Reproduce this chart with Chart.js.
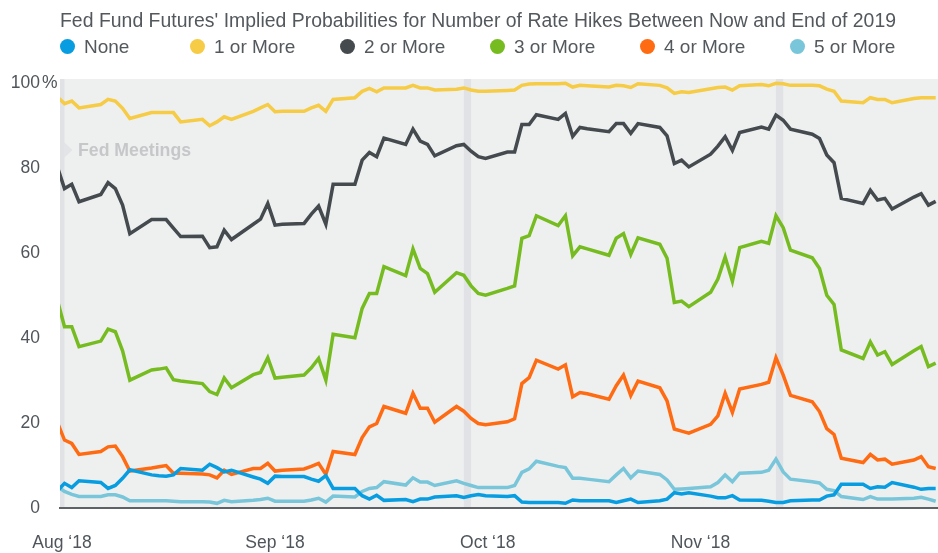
<!DOCTYPE html>
<html><head><meta charset="utf-8">
<script src="https://cdn.jsdelivr.net/npm/chart.js@4.4.1/dist/chart.umd.min.js"></script>
<style>
html,body{margin:0;padding:0;background:#fff;}
#wrap{position:relative;width:938px;height:553px;overflow:hidden;}
#c{position:absolute;left:0;top:0;}
.txt{font-family:"Liberation Sans",Arial,sans-serif;color:#53585d;white-space:nowrap;position:absolute;}
#ttl{left:60px;top:8px;font-size:19.4px;line-height:24px;}
.lg{top:35px;font-size:19px;line-height:24px;}
.dot{position:absolute;width:15px;height:15px;border-radius:50%;top:39px;}
#fm{left:78px;top:139px;font-size:17.7px;line-height:22px;font-weight:bold;color:#c5c7c9;}
</style></head>
<body><div id="wrap"><canvas id="c" width="938" height="553"></canvas>
<div id="ttl" class="txt">Fed Fund Futures' Implied Probabilities for Number of Rate Hikes Between Now and End of 2019</div>
<div id="fm" class="txt">Fed Meetings</div>
</div>
<script>
const dates = ['2018-07-31','2018-08-01','2018-08-02','2018-08-03',
'2018-08-06','2018-08-07','2018-08-08','2018-08-09','2018-08-10',
'2018-08-13','2018-08-14','2018-08-15','2018-08-16','2018-08-17',
'2018-08-20','2018-08-21','2018-08-22','2018-08-23','2018-08-24',
'2018-08-27','2018-08-28','2018-08-29','2018-08-30','2018-08-31',
'2018-09-03','2018-09-04','2018-09-05','2018-09-06','2018-09-07',
'2018-09-10','2018-09-11','2018-09-12','2018-09-13','2018-09-14',
'2018-09-17','2018-09-18','2018-09-19','2018-09-20','2018-09-21',
'2018-09-24','2018-09-25','2018-09-26','2018-09-27','2018-09-28',
'2018-10-01','2018-10-02','2018-10-03','2018-10-04','2018-10-05',
'2018-10-08','2018-10-09','2018-10-10','2018-10-11','2018-10-12',
'2018-10-15','2018-10-16','2018-10-17','2018-10-18','2018-10-19',
'2018-10-22','2018-10-23','2018-10-24','2018-10-25','2018-10-26',
'2018-10-29','2018-10-30','2018-10-31','2018-11-01','2018-11-02',
'2018-11-05','2018-11-06','2018-11-07','2018-11-08','2018-11-09',
'2018-11-12','2018-11-13','2018-11-14','2018-11-15','2018-11-16',
'2018-11-19','2018-11-20','2018-11-21','2018-11-22','2018-11-23',
'2018-11-26','2018-11-27','2018-11-28','2018-11-29'];

const seriesNames = ['None','1 or More','2 or More','3 or More','4 or More','5 or More'];

const none = [4.0, 5.8,4.8,6.4, 6.0,4.6,5.3,7.0,9.0, 7.8,7.6,7.5,7.8,9.3, 8.9,10.3,9.5,8.5,8.9,
7.3,6.8,5.8,7.5,7.4, 7.4,6.8,6.3,7.6,4.6, 4.6,2.9,2.1,3.0,1.8, 2.0,1.5,2.1,2.1,2.6,
2.9,2.5,2.9,3.2,2.9, 2.7,2.9,1.4,1.3,1.3, 1.3,1.1,1.9,1.7,1.7, 1.7,1.3,1.7,2.1,1.3,
1.7,2.1,3.6,3.3,3.6, 2.8,2.4,2.4,2.9,1.9, 1.8,1.6,1.3,1.3,1.7, 1.9,1.9,2.8,3.1,5.6,
5.6,4.6,5.0,4.9,6.0, 4.9,4.4,4.6,4.6];

const oneOrMore = [96.8, 95.2,95.8,94.2, 95.0,96.2,95.8,94.1,91.7, 93.1,93.1,93.1,93.1,90.9,
91.5,90.0,90.9,92.1,91.5, 93.4,94.2,95.0,93.3,93.4, 93.4,94.2,94.8,93.4,96.2,
96.6,98.1,98.8,98.0,98.9, 98.9,99.5,98.9,98.9,98.4, 98.6,98.9,98.4,98.1,98.1,
98.3,98.4,99.5,99.8,99.9, 99.9,100,99.1,99.5,99.4, 99.1,99.5,99.4,99.0,99.9,
99.5,98.9,97.6,98.0,97.8, 98.7,99.0,99.1,98.4,99.4, 99.7,99.4,100,99.9,99.5,
99.5,99.4,98.6,98.1,95.8, 95.4,96.6,96.2,96.2,95.4, 96.4,96.6,96.6,96.6];

const twoOrMore = [80.4, 75.2,76.2,72.1, 73.8,76.6,75.2,71.3,64.6, 67.9,67.9,67.9,65.9,63.9,
64.0,61.3,61.5,65.4,63.2, 66.8,68.0,71.7,66.6,66.8, 67.0,69.2,71.1,66.8,76.2,
76.2,81.9,83.7,82.7,87.1, 85.6,89.2,86.4,85.6,82.9, 85.3,85.6,84.0,82.7,82.3,
83.8,83.8,90.3,90.3,92.6, 91.5,92.9,87.5,89.6,89.3, 88.6,90.5,90.5,88.2,90.5,
89.6,87.6,81.1,81.9,80.3, 83.3,85.2,87.4,84.2,88.4, 89.7,89.2,92.5,91.3,89.2,
88.0,87.0,83.1,81.3,72.9, 71.7,74.8,72.5,72.9,70.4, 73.2,74.0,71.3,72.2];

const threeOrMore = [49.0, 42.7,42.7,38.0, 39.3,42.1,41.5,37.0,30.1, 32.5,32.7,33.0,30.2,29.9,
29.3,27.4,26.7,30.6,28.3, 31.4,31.9,35.4,30.6,30.8, 31.3,33.0,35.2,30.1,40.9,
40.1,47.0,50.5,50.5,56.8, 54.7,61.0,56.4,55.2,50.8, 55.4,54.8,52.3,50.5,50.1,
51.7,52.3,63.5,64.1,68.8, 66.5,68.8,59.4,61.5,61.0, 59.5,63.5,64.6,59.7,63.6,
62.1,58.8,48.4,48.7,47.4, 50.8,53.9,59.1,53.4,61.3, 62.8,62.3,68.8,66.0,60.7,
58.9,56.4,50.1,47.9,37.2, 35.2,39.1,36.0,36.8,33.8, 37.0,38.0,33.3,34.1];

const fourOrMore = [20.2, 16.0,15.2,12.6, 13.3,14.4,14.6,12.1,8.7, 9.4,9.7,10.0,8.2,8.2,
8.0,7.8,7.1,8.9,7.9, 9.3,9.3,10.5,8.7,8.9, 9.2,9.8,10.5,7.9,13.3,
12.6,16.6,19.1,19.9,23.9, 22.3,27.0,23.5,23.5,20.2, 23.9,22.8,21.1,19.9,19.6,
20.3,21.0,29.3,30.7,34.8, 32.7,33.7,26.2,27.2,26.9, 25.6,28.8,31.3,26.5,29.9,
28.3,25.2,18.6,18.1,17.6, 19.7,21.7,27.0,22.5,28.0, 29.1,29.6,35.4,31.3,26.5,
25.0,22.7,18.7,17.3,11.7, 10.7,12.6,11.3,11.5,10.3, 11.3,12.1,9.7,9.3];

const fiveOrMore = [5.1, 3.9,3.2,2.7, 2.7,3.1,3.1,2.6,1.7, 1.7,1.7,1.7,1.6,1.5,
1.5,1.4,1.1,1.8,1.5, 1.8,2.0,2.3,1.6,1.6, 1.6,1.9,2.3,1.4,2.8,
2.6,3.9,4.6,4.8,6.2, 5.4,7.1,6.1,6.1,5.3, 6.4,5.8,5.3,4.8,4.8,
4.8,5.3,8.4,9.2,11.0, 9.8,9.5,7.0,7.0,6.8, 6.2,7.8,9.3,7.1,8.7,
7.9,6.6,4.4,4.5,4.6, 5.0,6.0,7.8,6.2,8.2, 8.4,8.9,11.5,8.5,6.8,
6.2,5.9,4.4,4.1,2.7, 2.0,2.7,2.1,2.1,2.1, 2.3,2.5,2.1,1.6];

const fedMeetings = ['2018-08-01','2018-09-26','2018-11-08'];
const yTicks = [0,20,40,60,80,100];
const xTickLabels = ['Aug \u201818','Sep \u201818','Oct \u201818','Nov \u201818'];
const xTickDays = [-0.35, 29.0, 58.3, 87.6];

const colors = ['#079de0','#f6cb45','#454a4f','#76bc21','#ff6b12','#79c6da'];
const seriesValues = [none, oneOrMore, twoOrMore, threeOrMore, fourOrMore, fiveOrMore];

const base = Date.UTC(2018,7,1);
const dayOf = s => { const [y,m,d] = s.split('-').map(Number); return (Date.UTC(y,m-1,d)-base)/86400000; };
const xs = dates.map(dayOf);
const fedDays = fedMeetings.map(dayOf);

const FONT = '"Liberation Sans",Arial,sans-serif';
const TICK_COLOR = '#4f555a';

// legend (HTML, real text)
const wrap = document.getElementById('wrap');
const lgLeft = [60,190,340,490,640,790];
seriesNames.forEach((n,i)=>{
  const d = document.createElement('div'); d.className='dot';
  d.style.left = lgLeft[i]+'px'; d.style.background = colors[i]; wrap.appendChild(d);
  const t = document.createElement('div'); t.className='txt lg'; t.textContent = n;
  t.style.left = (lgLeft[i]+24)+'px'; wrap.appendChild(t);
});
// fit title width to the reference span
const ttl = document.getElementById('ttl');
const w0 = ttl.getBoundingClientRect().width;
ttl.style.letterSpacing = ((836 - w0)/(ttl.textContent.length-1)).toFixed(3)+'px';

const bgPlugin = {
  id:'bg',
  beforeDraw(chart){
    const {ctx, chartArea:a, scales:{x}} = chart;
    ctx.save();
    ctx.fillStyle = '#eef0f0';
    ctx.fillRect(a.left, a.top, a.right-a.left, a.bottom-a.top);
    ctx.beginPath(); ctx.rect(a.left, a.top, a.right-a.left, a.bottom-a.top); ctx.clip();
    ctx.fillStyle = '#e1e2e5';
    fedDays.forEach(d=>{
      const x0 = x.getPixelForValue(d-1), x1 = x.getPixelForValue(d);
      ctx.fillRect(x0, a.top, x1-x0, a.bottom-a.top);
    });
    ctx.restore();
    const bx = Math.max(a.left, x.getPixelForValue(fedDays[0]));
    ctx.save();
    ctx.fillStyle = '#e3e4e7';
    ctx.beginPath();
    ctx.moveTo(bx-0.5, 142); ctx.lineTo(bx+8, 150); ctx.lineTo(bx-0.5, 158); ctx.closePath(); ctx.fill();
    ctx.restore();
  },
  afterDraw(chart){
    const {ctx, chartArea:a, scales:{y}} = chart;
    ctx.save();
    ctx.font = '17.5px '+FONT; ctx.fillStyle = TICK_COLOR;
    ctx.textAlign='left'; ctx.textBaseline='middle';
    ctx.fillText('%', a.left-18, y.getPixelForValue(100));
    ctx.restore();
  }
};

new Chart(document.getElementById('c'), {
  type:'line',
  data:{
    datasets: seriesNames.map((n,i)=>({
      label:n,
      data: xs.map((x,j)=>({x, y: seriesValues[i][j]})),
      borderColor: colors[i], backgroundColor: colors[i],
      borderWidth: 3.5, pointRadius: 0, tension: 0, fill:false, clip: 0,
      borderJoinStyle:'miter'
    }))
  },
  plugins:[bgPlugin],
  options:{
    responsive:false, animation:false, devicePixelRatio:1,
    layout:{padding:{top:79,left:0,right:0,bottom:0}},
    plugins:{legend:{display:false}, title:{display:false}, tooltip:{enabled:false}},
    scales:{
      x:{type:'linear', min:-0.62, max:120.32,
        grid:{display:false, drawTicks:false},
        border:{display:true, color:'#5d6267', width:2},
        afterBuildTicks: s => { s.ticks = xTickDays.map(v=>({value:v})); },
        afterFit: s => { s.height = 45; },
        ticks:{autoSkip:false, maxRotation:0, padding:25, color:TICK_COLOR,
          font:{family:FONT, size:17.5}, callback:(v,i)=>xTickLabels[i]}
      },
      y:{min:0, max:101,
        grid:{display:false, drawTicks:false},
        border:{display:false},
        afterBuildTicks: s => { s.ticks = yTicks.map(v=>({value:v})); },
        afterFit: s => { s.width = 60; },
        ticks:{padding:20, color:TICK_COLOR, font:{family:FONT, size:17.5}, callback:v=>String(v)}
      }
    }
  }
});
</script></body></html>
